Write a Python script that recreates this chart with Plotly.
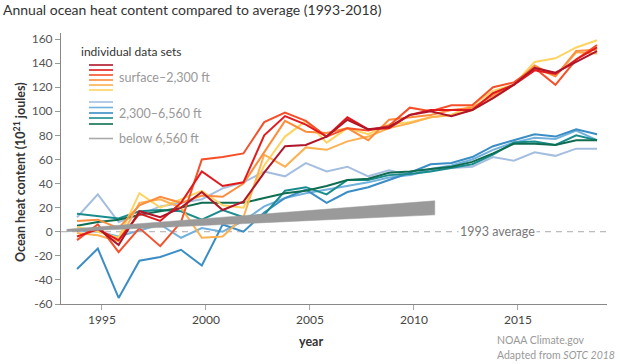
import plotly.graph_objects as go

# ---------------- data ----------------
years = list(range(1993, 2019))
tick_labels = ["1995", "2000", "2005", "2010", "2015"]
y_ticks = list(range(-60, 161, 20))

# surface - 2,300 ft (6 data sets)
shallow_darkred = [1, 3, -11, 17, 12, 20, 33, 18, 25, 49, 71, 72, 79, 93, 85, 87, 97, 100, 96, 101, 111, 122, 136, 132, 141, 150]
shallow_red = [-4, 2, -7, 15, 9, 24, 50, 38, 41, 80, 96, 89, 79, 95, 85, 86, 97, 101, 101, 101, 115, 122, 134, 131, 143, 153]
shallow_redorange = [-7, 6, -17, 3, -12, 8, 60, 62, 65, 91, 99, 92, 79, 86, 84, 88, 103, 100, 105, 105, 120, 124, 136, 122, 143, 155]
shallow_orange = [9, 10, 3, 22, 29, 24, 30, 29, 40, 66, 92, 83, 82, 86, 76, 93, 95, 97, 101, 103, 113, 122, 138, 129, 150, 151]
shallow_lightorange = [-1, -3, -8, 24, 27, 20, -5, -4, 12, 64, 54, 70, 68, 75, 79, 86, 90, 95, 97, 101, 111, 122, 136, 129, 149, 148]
shallow_yellow = [4, 0, -5, 32, 20, 27, 34, 22, 20, 55, 79, 92, 74, 86, 81, 89, 91, 95, 97, 105, 117, 122, 141, 144, 153, 159]

# 2,300 - 6,560 ft (5 data sets)
mid_lavender = [12, 31, 8, 14, 21, 24, 27, 36, 41, 50, 46, 57, 50, 54, 46, 51, 47, 51, 53, 54, 62, 59, 66, 63, 69, 69]
mid_lightblue = [1, 0, -4, 1, 6, -5, 3, 0, 9, 21, 28, 32, 35, 38, 41, 45, 47, 52, 55, 60, 68, 74, 78, 77, 84, 76]
mid_steelblue = [-31, -14, -55, -24, -21, -15, -28, 6, 0, 16, 28, 35, 24, 33, 37, 43, 49, 56, 57, 62, 71, 76, 81, 79, 85, 81]
mid_teal = [15, 13, 11, 17, 18, 17, 10, 18, 12, 14, 34, 37, 31, 43, 43, 47, 48, 50, 53, 56, 64, 74, 75, 72, 80, 76]
mid_green = [5, 8, 10, 14, 17, 20, 24, 24, 24, 28, 32, 34, 38, 43, 44, 49, 50, 52, 54, 58, 65, 73, 73, 72, 76, 76]

# below 6,560 ft: trend band (start / end)
deep_years = [1992.5, 2010.2]
deep_low = [0, 14]
deep_high = [2, 25.7]

# ---------------- styling ----------------
W, H = 620, 364
ML, MR, MT, MB = 61, 13, 33, 60
PW, PH = W - ML - MR, H - MT - MB
FONT = "Lato"

def pxx(p):
    return (p - ML) / PW

def pxy(p):
    return (H - MB - p) / PH

warm = [
    (shallow_darkred, "#b0152a"),
    (shallow_red, "#e3191c"),
    (shallow_redorange, "#f6502a"),
    (shallow_orange, "#fd8d3c"),
    (shallow_lightorange, "#fdb04f"),
    (shallow_yellow, "#fed360"),
]
cool = [
    (mid_lavender, "#a4bedf"),
    (mid_lightblue, "#72b1dc"),
    (mid_steelblue, "#3a8dc5"),
    (mid_teal, "#1b8c8e"),
    (mid_green, "#0f6e52"),
]
deep_color = "#9a9a9a"

fig = go.Figure()

for vals, col in cool:
    fig.add_trace(go.Scatter(x=years, y=vals, mode="lines",
                             line=dict(color=col, width=2), hoverinfo="skip"))
for vals, col in warm[::-1]:
    fig.add_trace(go.Scatter(x=years, y=vals, mode="lines",
                             line=dict(color=col, width=2), hoverinfo="skip"))

fig.add_trace(go.Scatter(
    x=[deep_years[0], deep_years[1], deep_years[1], deep_years[0]],
    y=[deep_low[0], deep_low[1], deep_high[1], deep_high[0]],
    mode="lines", fill="toself", fillcolor=deep_color,
    line=dict(color=deep_color, width=0.5), hoverinfo="skip"))

x_range = [1992.23, 2018.48]
tick_shift = 0.8
tickvals = [int(t) - tick_shift for t in tick_labels]

shapes = []
# zero reference line
shapes.append(dict(type="line", xref="x", yref="y", x0=x_range[0], x1=x_range[1],
                   y0=0, y1=0, line=dict(color="#aaaaaa", width=1, dash="6px,5px"),
                   layer="below"))

# legend swatches
warm_y = [65, 70, 75, 80, 85, 90]
cool_y = [102, 107.5, 113, 118, 124]
for (vals, col), yy in zip(warm, warm_y):
    shapes.append(dict(type="line", xref="paper", yref="paper",
                       x0=pxx(89), x1=pxx(113), y0=pxy(yy), y1=pxy(yy),
                       line=dict(color=col, width=1.6)))
for (vals, col), yy in zip(cool, cool_y):
    shapes.append(dict(type="line", xref="paper", yref="paper",
                       x0=pxx(89), x1=pxx(113), y0=pxy(yy), y1=pxy(yy),
                       line=dict(color=col, width=1.6)))
shapes.append(dict(type="line", xref="paper", yref="paper",
                   x0=pxx(89), x1=pxx(113), y0=pxy(138.5), y1=pxy(138.5),
                   line=dict(color="#aaaaaa", width=1.6)))

annotations = [
    dict(text="individual data sets", xref="paper", yref="paper",
         x=pxx(79), y=pxy(51), xanchor="left", yanchor="middle", showarrow=False,
         font=dict(family=FONT, size=12, color="#333333")),
    dict(text="surface\u20132,300 ft", xref="paper", yref="paper",
         x=pxx(117), y=pxy(77), xanchor="left", yanchor="middle", showarrow=False,
         font=dict(family=FONT, size=12.5, color="#999999")),
    dict(text="2,300\u20136,560 ft", xref="paper", yref="paper",
         x=pxx(117), y=pxy(113), xanchor="left", yanchor="middle", showarrow=False,
         font=dict(family=FONT, size=12.5, color="#999999")),
    dict(text="below 6,560 ft", xref="paper", yref="paper",
         x=pxx(117), y=pxy(138.5), xanchor="left", yanchor="middle", showarrow=False,
         font=dict(family=FONT, size=12.5, color="#999999")),
    dict(text="1993 average", xref="paper", yref="y",
         x=pxx(497), y=0, xanchor="center", yanchor="middle", showarrow=False,
         bgcolor="white", borderpad=1,
         font=dict(family=FONT, size=12.5, color="#777777")),
    dict(text="NOAA Climate.gov", xref="paper", yref="paper",
         x=pxx(495), y=pxy(340), xanchor="left", yanchor="middle", showarrow=False,
         font=dict(family=FONT, size=10.5, color="#999999")),
    dict(text="Adapted from <i>SOTC 2018</i>", xref="paper", yref="paper",
         x=pxx(495), y=pxy(355), xanchor="left", yanchor="middle", showarrow=False,
         font=dict(family=FONT, size=10.5, color="#999999")),
    dict(text="<b>year</b>", xref="paper", yref="paper",
         x=pxx(311), y=pxy(342), xanchor="center", yanchor="middle", showarrow=False,
         font=dict(family=FONT, size=12.5, color="#333333")),
    dict(text="<b>Ocean heat content (10<sup>21</sup> joules)</b>", xref="paper", yref="paper",
         x=pxx(20), y=pxy(172), xanchor="center", yanchor="middle", showarrow=False,
         textangle=-90,
         font=dict(family=FONT, size=12.5, color="#333333")),
]

fig.update_layout(
    width=W, height=H,
    margin=dict(l=ML, r=MR, t=MT, b=MB, autoexpand=False),
    paper_bgcolor="white", plot_bgcolor="white",
    showlegend=False,
    title=dict(text="Annual ocean heat content compared to average (1993-2018)",
               x=3 / W, xanchor="left", xref="container",
               y=1 - 10 / H, yanchor="middle", yref="container",
               font=dict(family=FONT, size=14, color="#333333")),
    xaxis=dict(range=x_range, showgrid=False, zeroline=False, automargin=False,
               showline=True, linecolor="#888888", linewidth=1,
               ticks="outside", ticklen=5, tickcolor="#aaaaaa",
               tickvals=tickvals, ticktext=tick_labels,
               tickfont=dict(family=FONT, size=12, color="#444444")),
    yaxis=dict(range=[-60, 165], showgrid=False, zeroline=False, automargin=False,
               showline=True, linecolor="#888888", linewidth=1,
               ticks="outside", ticklen=5, tickcolor="#999999",
               tickvals=y_ticks, ticktext=[str(v) for v in y_ticks],
               tickfont=dict(family=FONT, size=12, color="#555555")),
    shapes=shapes,
    annotations=annotations,
)

fig.write_html("out.html",
               config={"displayModeBar": False},
               post_script="document.body.style.margin='0px';document.body.style.overflow='hidden';")
